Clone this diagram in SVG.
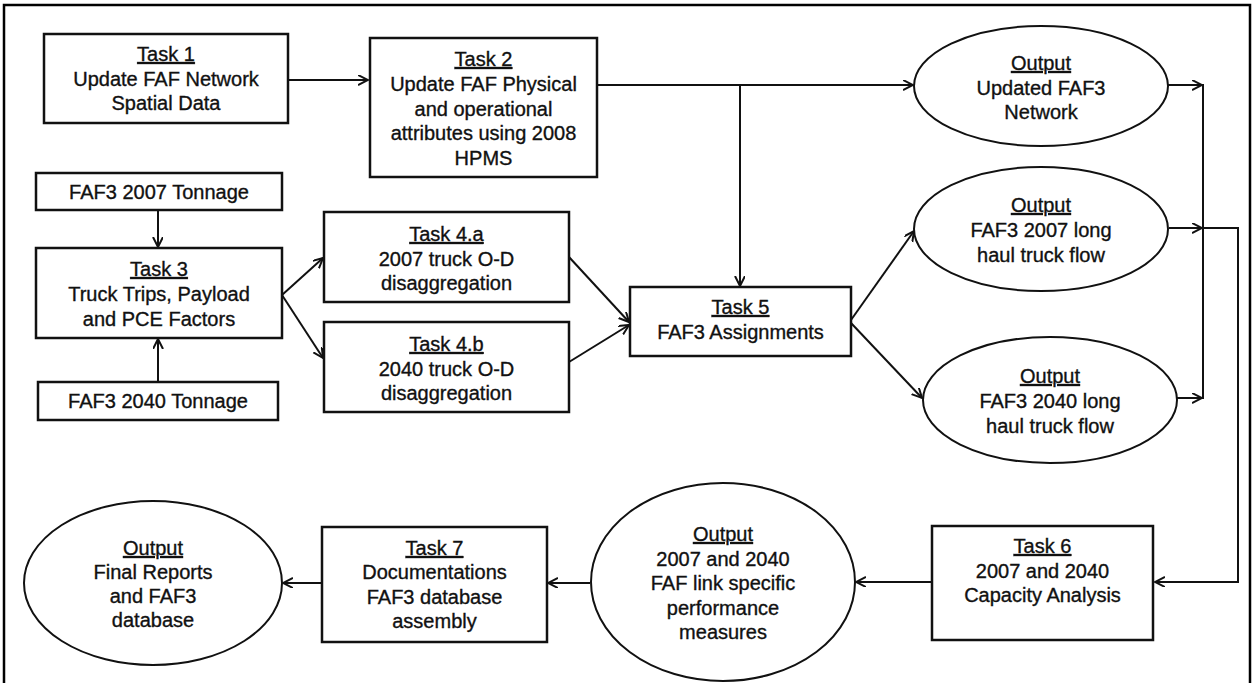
<svg xmlns="http://www.w3.org/2000/svg" width="1256" height="683" viewBox="0 0 1256 683">
<style>
.box{fill:#fff;stroke:#111;stroke-width:2.5}
.ell{fill:#fff;stroke:#111;stroke-width:2}
.t{font-family:"Liberation Sans",Arial,sans-serif;font-size:20px;fill:#111;stroke:#111;stroke-width:0.35;text-anchor:middle}
.u{text-decoration:underline}
.c{fill:none;stroke:#111;stroke-width:2}
.frame{fill:none;stroke:#000;stroke-width:2.5}
</style>
<defs>
<marker id="ah" markerUnits="userSpaceOnUse" markerWidth="12" markerHeight="12" refX="10" refY="5" orient="auto">
<path d="M0,0 L10,5 L0,10" fill="none" stroke="#111" stroke-width="2"/>
</marker>
</defs>
<rect width="1256" height="683" fill="#fff"/>
<path class="frame" d="M4,683 V5 H1250 V683"/>

<g id="connectors">
<path class="c" d="M288,80 H368" marker-end="url(#ah)"/>
<path class="c" d="M597,85 H913" marker-end="url(#ah)"/>
<path class="c" d="M740,85 V286" marker-end="url(#ah)"/>
<path class="c" d="M158,210 V247" marker-end="url(#ah)"/>
<path class="c" d="M158,382 V339" marker-end="url(#ah)"/>
<path class="c" d="M282,295 L323,258" marker-end="url(#ah)"/>
<path class="c" d="M282,295 L323,358" marker-end="url(#ah)"/>
<path class="c" d="M569,257 L629,322" marker-end="url(#ah)"/>
<path class="c" d="M569,362 L629,325" marker-end="url(#ah)"/>
<path class="c" d="M851,320 L914,231" marker-end="url(#ah)"/>
<path class="c" d="M851,323 L922,398" marker-end="url(#ah)"/>
<path class="c" d="M1168,85 H1202" marker-end="url(#ah)"/>
<path class="c" d="M1169,228 H1202" marker-end="url(#ah)"/>
<path class="c" d="M1177,398 H1202" marker-end="url(#ah)"/>
<path class="c" d="M1203,84 V399"/>
<path class="c" d="M1203,228 H1238 V582 H1155" marker-end="url(#ah)"/>
<path class="c" d="M932,582 H856" marker-end="url(#ah)"/>
<path class="c" d="M590,583 H548" marker-end="url(#ah)"/>
<path class="c" d="M322,583 H283" marker-end="url(#ah)"/>
</g>

<g id="task1">
<rect class="box" x="44" y="34" width="244" height="89"/>
<text class="t" x="166" y="61"><tspan class="u">Task 1</tspan><tspan x="166" y="86">Update FAF Network</tspan><tspan x="166" y="110">Spatial Data</tspan></text>
</g>

<g id="task2">
<rect class="box" x="370" y="38" width="227" height="139"/>
<text class="t" x="483.5" y="66"><tspan class="u">Task 2</tspan><tspan x="483.5" y="91">Update FAF Physical</tspan><tspan x="483.5" y="115.5">and operational</tspan><tspan x="483.5" y="140">attributes using 2008</tspan><tspan x="483.5" y="164.5">HPMS</tspan></text>
</g>

<g id="tonnage2007">
<rect class="box" x="36" y="173" width="246" height="37"/>
<text class="t" x="159" y="199">FAF3 2007 Tonnage</text>
</g>

<g id="task3">
<rect class="box" x="36" y="248" width="246" height="90"/>
<text class="t" x="159" y="276"><tspan class="u">Task 3</tspan><tspan x="159" y="301">Truck Trips, Payload</tspan><tspan x="159" y="326">and PCE Factors</tspan></text>
</g>

<g id="tonnage2040">
<rect class="box" x="38" y="382" width="240" height="38"/>
<text class="t" x="158" y="408">FAF3 2040 Tonnage</text>
</g>

<g id="task4a">
<rect class="box" x="324" y="212" width="245" height="90"/>
<text class="t" x="446.5" y="241"><tspan class="u">Task 4.a</tspan><tspan x="446.5" y="266">2007 truck O-D</tspan><tspan x="446.5" y="290">disaggregation</tspan></text>
</g>

<g id="task4b">
<rect class="box" x="324" y="322" width="245" height="90"/>
<text class="t" x="446.5" y="351"><tspan class="u">Task 4.b</tspan><tspan x="446.5" y="376">2040 truck O-D</tspan><tspan x="446.5" y="400">disaggregation</tspan></text>
</g>

<g id="task5">
<rect class="box" x="630" y="287" width="221" height="69"/>
<text class="t" x="740.5" y="314"><tspan class="u">Task 5</tspan><tspan x="740.5" y="339">FAF3 Assignments</tspan></text>
</g>

<g id="out1">
<ellipse class="ell" cx="1041" cy="86" rx="127" ry="60"/>
<text class="t" x="1041" y="70"><tspan class="u">Output</tspan><tspan x="1041" y="94.5">Updated FAF3</tspan><tspan x="1041" y="119">Network</tspan></text>
</g>

<g id="out2007">
<ellipse class="ell" cx="1041" cy="229" rx="127" ry="62"/>
<text class="t" x="1041" y="212"><tspan class="u">Output</tspan><tspan x="1041" y="237">FAF3 2007 long</tspan><tspan x="1041" y="261.5">haul truck flow</tspan></text>
</g>

<g id="out2040">
<ellipse class="ell" cx="1050" cy="400" rx="127" ry="63"/>
<text class="t" x="1050" y="383"><tspan class="u">Output</tspan><tspan x="1050" y="408">FAF3 2040 long</tspan><tspan x="1050" y="432.5">haul truck flow</tspan></text>
</g>

<g id="task6">
<rect class="box" x="932" y="526" width="221" height="114"/>
<text class="t" x="1042.5" y="553"><tspan class="u">Task 6</tspan><tspan x="1042.5" y="578">2007 and 2040</tspan><tspan x="1042.5" y="602">Capacity Analysis</tspan></text>
</g>

<g id="outperf">
<ellipse class="ell" cx="723" cy="582" rx="132" ry="99"/>
<text class="t" x="723" y="541"><tspan class="u">Output</tspan><tspan x="723" y="565.5">2007 and 2040</tspan><tspan x="723" y="590">FAF link specific</tspan><tspan x="723" y="614.5">performance</tspan><tspan x="723" y="639">measures</tspan></text>
</g>

<g id="task7">
<rect class="box" x="322" y="527" width="225" height="115"/>
<text class="t" x="434.5" y="555"><tspan class="u">Task 7</tspan><tspan x="434.5" y="579">Documentations</tspan><tspan x="434.5" y="604">FAF3 database</tspan><tspan x="434.5" y="628">assembly</tspan></text>
</g>

<g id="outfinal">
<ellipse class="ell" cx="153" cy="583" rx="129" ry="82"/>
<text class="t" x="153" y="555"><tspan class="u">Output</tspan><tspan x="153" y="579">Final Reports</tspan><tspan x="153" y="603">and FAF3</tspan><tspan x="153" y="627">database</tspan></text>
</g>
</svg>
